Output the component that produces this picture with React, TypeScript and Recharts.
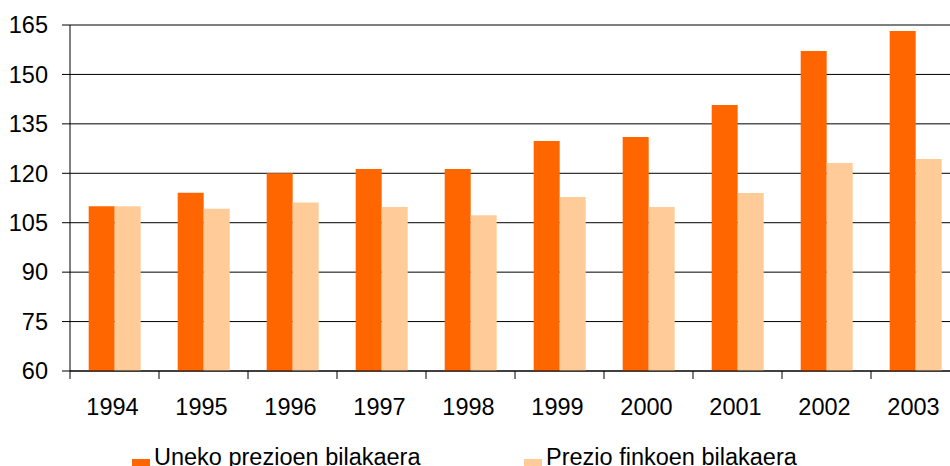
import { BarChart, Bar, XAxis, YAxis, CartesianGrid, Legend } from 'recharts';

const years = ['1994', '1995', '1996', '1997', '1998', '1999', '2000', '2001', '2002', '2003'];
const currentPrices = [110, 114.1, 120, 121.3, 121.3, 129.8, 131, 140.7, 157.1, 163.2];
const fixedPrices = [110, 109.2, 111.1, 109.8, 107.3, 112.8, 109.8, 114, 123.1, 124.3];
const yTicks = [60, 75, 90, 105, 120, 135, 150, 165];

const seriesNames = ['Uneko prezioen bilakaera', 'Prezio finkoen bilakaera'];
const colors = ['#FF6600', '#FFCC99'];

const data = years.map((year, i) => ({
  year,
  current: currentPrices[i],
  fixed: fixedPrices[i],
}));

const FONT = '"Liberation Sans", Arial, sans-serif';
const FONT_SIZE = 23.5;
const TICK_MARGIN = 27;

function YearTick(props: any) {
  const { x, y, payload, width, visibleTicksCount, index } = props;
  const band = width && visibleTicksCount ? width / visibleTicksCount : 89;
  const axisY = y - TICK_MARGIN;
  const left = x - band / 2;
  const right = x + band / 2;
  return (
    <g>
      <line x1={left} x2={left} y1={axisY} y2={axisY + 8} stroke="#000" />
      {index === visibleTicksCount - 1 && (
        <line x1={right} x2={right} y1={axisY} y2={axisY + 8} stroke="#000" />
      )}
      <text
        x={x - 2}
        y={y}
        dy="0.71em"
        textAnchor="middle"
        fill="#000"
        fontSize={FONT_SIZE}
        fontFamily={FONT}
      >
        {payload.value}
      </text>
    </g>
  );
}

function LegendContent() {
  return (
    <div style={{ display: 'flex', height: 30, fontFamily: FONT, fontSize: FONT_SIZE, lineHeight: '30px' }}>
      {seriesNames.map((name, i) => (
        <div key={name} style={{ display: 'flex', width: 392 }}>
          <span
            style={{
              display: 'inline-block',
              width: 18,
              height: 18,
              marginTop: 17,
              marginRight: 4,
              background: colors[i],
            }}
          />
          <span style={{ color: '#000', whiteSpace: 'nowrap' }}>{name}</span>
        </div>
      ))}
    </div>
  );
}

export default function App() {
  return (
    <div style={{ position: 'absolute', left: 0, top: 0, width: 950, height: 466, overflow: 'hidden', background: '#fff' }}>
      <BarChart
        width={960}
        height={474}
        data={data}
        margin={{ top: 25, right: 0, bottom: 0, left: 0 }}
        barCategoryGap="21%"
        barGap={0}
      >
        <CartesianGrid vertical={false} stroke="#000" />
        <XAxis
          dataKey="year"
          height={73}
          axisLine={{ stroke: '#000' }}
          tickLine={false}
          tickSize={0}
          tickMargin={TICK_MARGIN}
          interval={0}
          tick={<YearTick />}
        />
        <YAxis
          width={70}
          domain={[60, 165]}
          ticks={yTicks}
          interval={0}
          axisLine={{ stroke: '#000' }}
          tickLine={{ stroke: '#000' }}
          tickSize={8}
          tickMargin={14}
          tick={{ fill: '#000', fontSize: FONT_SIZE, fontFamily: FONT }}
          allowDataOverflow
        />
        <Legend
          verticalAlign="bottom"
          content={<LegendContent />}
          wrapperStyle={{ left: 132, width: 800, bottom: 2 }}
        />
        <Bar dataKey="current" name={seriesNames[0]} fill={colors[0]} isAnimationActive={false} />
        <Bar dataKey="fixed" name={seriesNames[1]} fill={colors[1]} isAnimationActive={false} />
      </BarChart>
    </div>
  );
}
